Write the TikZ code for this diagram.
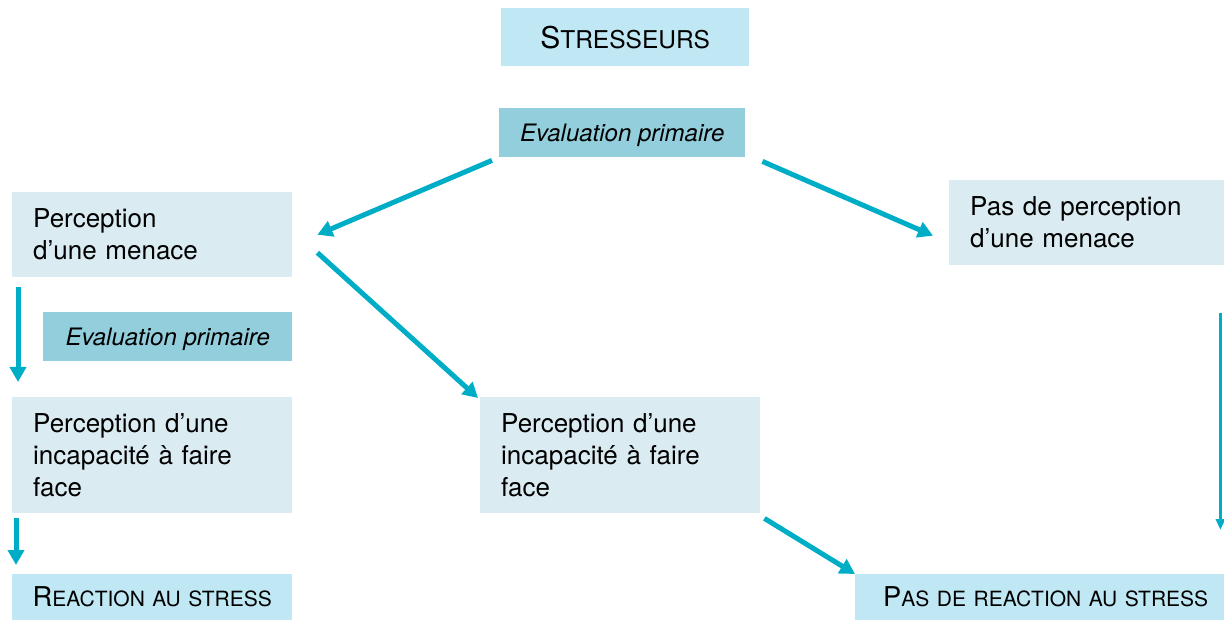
\documentclass[tikz,border=0pt]{standalone}
\usepackage{fontspec}
\setmainfont{TeX Gyre Heros}
\usetikzlibrary{arrows.meta}
\definecolor{capsfill}{HTML}{C0E8F4}
\definecolor{evalfill}{HTML}{92CEDC}
\definecolor{percfill}{HTML}{DAEBF2}
\definecolor{arrowcol}{HTML}{00ADC7}
\newcommand{\capsp}{\hspace{7.5pt}}
\begin{document}
\begin{tikzpicture}[x=1pt,y=-1pt]
\tikzstyle{every node}+=[inner sep=0pt]
\tikzstyle{perc}=[fill=percfill, anchor=north west, minimum width=280pt, text width=238pt, inner xsep=21pt, align=left, font=\fontsize{26}{32}\selectfont]
\tikzstyle{evalbox}=[fill=evalfill, anchor=north west, minimum height=49pt, text depth=0pt, font=\fontsize{24}{28}\selectfont\itshape]
\tikzstyle{endbox}=[fill=capsfill, anchor=north west, minimum height=46pt]
\tikzstyle{arr}=[draw=arrowcol, line width=5pt, -{Triangle[length=15pt,width=16pt]}, arrowcol]
\useasboundingbox (0,0) rectangle (1224,620);
% top
\node [endbox, minimum width=248pt, minimum height=58pt] (stress) at (501,8)
  {{\fontsize{30}{30}\selectfont S}{\fontsize{24.5}{24.5}\selectfont TRESSEURS}};
\node [evalbox, minimum width=246pt] (evaltop) at (499,108) {Evaluation primaire};
% left column
\node [perc, minimum height=85pt] (menace) at (12,192) {Perception\\d’une menace};
\node [evalbox, minimum width=249pt] (evalleft) at (43,312) {Evaluation primaire};
\node [perc, minimum height=116pt] (incapleft) at (12,397) {Perception d’une\\incapacité à faire\\face};
\node [endbox, minimum width=280pt] (reac) at (12,574)
  {{\fontsize{27.3}{27.3}\selectfont R}{\fontsize{21}{21}\selectfont EACTION\capsp AU\capsp STRESS}};
% middle and right
\node [perc, minimum height=116pt] (incapmid) at (480,397) {Perception d’une\\incapacité à faire\\face};
\node [perc, minimum width=275pt, text width=233pt, minimum height=85pt] (pasperc) at (949,180) {Pas de perception\\d’une menace};
\node [endbox, minimum width=369pt, text width=337pt, inner xsep=16pt, align=right] (pasreac) at (855,574)
  {{\fontsize{27.3}{27.3}\selectfont P}{\fontsize{21}{21}\selectfont AS\capsp DE\capsp REACTION\capsp AU\capsp STRESS}};
% arrows
\draw [arr] ([xshift=-7pt,yshift=-3pt]evaltop.south west) -- ([xshift=25pt]menace.east);
\draw [arr] ([xshift=17pt,yshift=-4pt]evaltop.south east) -- ([xshift=-16pt,yshift=-13pt]pasperc.west);
\draw [arr] ([xshift=25pt,yshift=-18pt]menace.east) -- ([xshift=-2pt,yshift=-1pt]incapmid.north west);
\draw [arr] ([xshift=6pt,yshift=-10pt]menace.south west) -- ([xshift=6pt,yshift=15pt]incapleft.north west);
\draw [arr] ([xshift=4pt,yshift=-5pt]incapleft.south west) -- ([xshift=4pt,yshift=9pt]reac.north west);
\draw [arr, line width=3pt, -{Triangle[length=11pt,width=9pt]}] ([xshift=-4pt,yshift=-48pt]pasperc.south east) -- ([xshift=-4pt,yshift=44pt]pasreac.north east);
\draw [arr] ([xshift=4pt,yshift=-5pt]incapmid.south east) -- (pasreac.north west);
\end{tikzpicture}
\end{document}
